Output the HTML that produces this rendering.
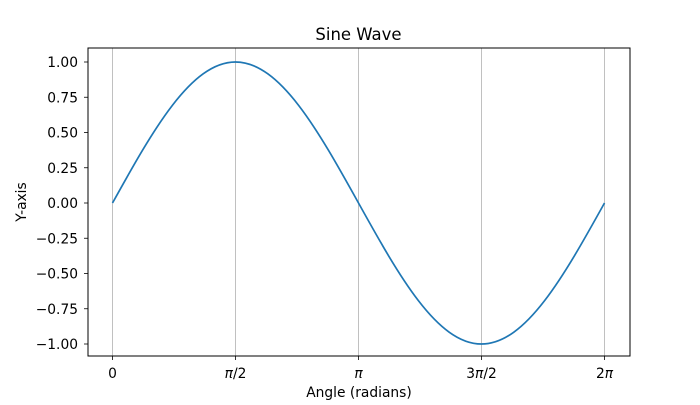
<!DOCTYPE html>
<html><head><meta charset="utf-8"><style>
html,body{margin:0;padding:0;background:#fff;}
text{font-family:"DejaVu Sans","Liberation Sans",sans-serif;fill:#000;}
</style></head><body>
<svg width="700" height="400" xmlns="http://www.w3.org/2000/svg">
<rect width="700" height="400" fill="#fff"/>
<g stroke="#b0b0b0" stroke-width="0.8">
<line x1="112.5" y1="48" x2="112.5" y2="356"/>
<line x1="235.5" y1="48" x2="235.5" y2="356"/>
<line x1="358.5" y1="48" x2="358.5" y2="356"/>
<line x1="481.5" y1="48" x2="481.5" y2="356"/>
<line x1="604.5" y1="48" x2="604.5" y2="356"/>
</g>
<path d="M112.5,203 C152.66,130.7 190.99,62 235.5,62 C280,62 318.3,130.7 358.5,203 C398.7,275.3 437,344 481.5,344 C526,344 564.3,275.3 604.5,203" fill="none" stroke="#1f77b4" stroke-width="1.7"/>
<rect x="88" y="48" width="542" height="308" fill="none" stroke="#000" stroke-width="1"/>
<g stroke="#000" stroke-width="0.8">
<line x1="112.5" y1="356" x2="112.5" y2="360"/>
<line x1="235.5" y1="356" x2="235.5" y2="360"/>
<line x1="358.5" y1="356" x2="358.5" y2="360"/>
<line x1="481.5" y1="356" x2="481.5" y2="360"/>
<line x1="604.5" y1="356" x2="604.5" y2="360"/>
<line x1="84" y1="62" x2="88" y2="62"/>
<line x1="84" y1="97.25" x2="88" y2="97.25"/>
<line x1="84" y1="132.5" x2="88" y2="132.5"/>
<line x1="84" y1="167.75" x2="88" y2="167.75"/>
<line x1="84" y1="203" x2="88" y2="203"/>
<line x1="84" y1="238.25" x2="88" y2="238.25"/>
<line x1="84" y1="273.5" x2="88" y2="273.5"/>
<line x1="84" y1="308.75" x2="88" y2="308.75"/>
<line x1="84" y1="344" x2="88" y2="344"/>
</g>
<g font-size="13.8" text-anchor="end">
<text x="78" y="67">1.00</text>
<text x="78" y="102.25">0.75</text>
<text x="78" y="137.5">0.50</text>
<text x="78" y="172.75">0.25</text>
<text x="78" y="208">0.00</text>
<text x="78" y="243.25">−0.25</text>
<text x="78" y="278.5">−0.50</text>
<text x="78" y="313.75">−0.75</text>
<text x="78" y="349">−1.00</text>
</g>
<g font-size="13.8" text-anchor="middle">
<text x="112.5" y="378">0</text>
<text x="235.5" y="378"><tspan font-style="italic">π</tspan>/2</text>
<text x="358.5" y="378"><tspan font-style="italic">π</tspan></text>
<text x="481.5" y="378">3<tspan font-style="italic">π</tspan>/2</text>
<text x="604.5" y="378">2<tspan font-style="italic">π</tspan></text>
<text x="359" y="397">Angle (radians)</text>
<text x="358.5" y="40" font-size="16.5">Sine Wave</text>
<text transform="translate(26,202) rotate(-90)">Y-axis</text>
</g>
</svg>
</body></html>
